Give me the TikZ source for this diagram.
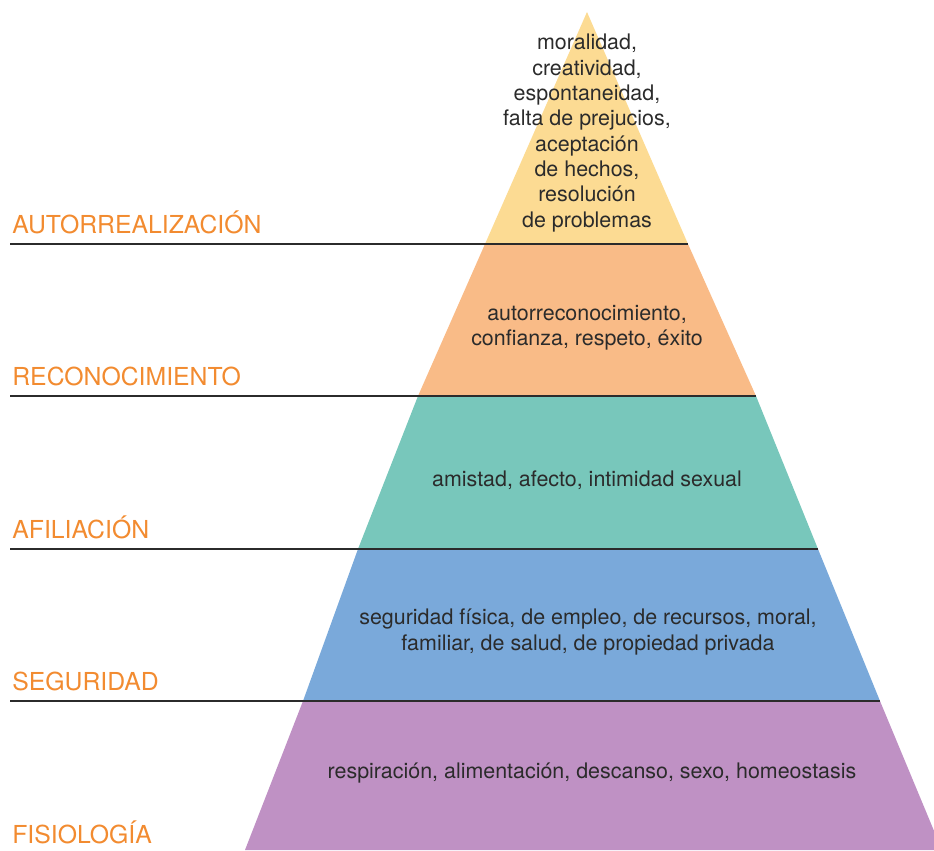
\documentclass[tikz,border=0pt]{standalone}
\usepackage{fontspec}
\setmainfont{TeX Gyre Heros}
\usetikzlibrary{calc}
\definecolor{tierfive}{HTML}{FCDB93}
\definecolor{tierfour}{HTML}{F9BB87}
\definecolor{tierthree}{HTML}{78C7BB}
\definecolor{tiertwo}{HTML}{7AA9DA}
\definecolor{tierone}{HTML}{BF91C4}
\definecolor{levelorange}{HTML}{F28B30}
\definecolor{textgray}{HTML}{2B2B2B}
\tikzset{
  tiertext/.style={align=center, text=textgray, inner sep=0pt,
    font=\fontsize{12.2}{14.4}\selectfont},
  levellabel/.style={anchor=base west, text=levelorange, inner sep=0pt,
    font=\fontsize{14.1}{15}\selectfont},
  levelline/.style={draw=textgray, line width=1.3pt}
}

\begin{document}
\begin{tikzpicture}[x=0.02cm,y=-0.02cm]
\useasboundingbox (0,0) rectangle (934,850);
\clip (0,0) rectangle (934,850);
% edges of the pyramid
\coordinate (apex) at (587,12);
\coordinate (l1) at (485,244); \coordinate (r1) at (688,244);
\coordinate (l2) at (418,396); \coordinate (r2) at (756,396);
\coordinate (l3) at (358,549); \coordinate (r3) at (818,549);
\coordinate (l4) at (303,701); \coordinate (r4) at (880,701);
\coordinate (l5) at (245,850); \coordinate (r5) at (942,850);
% tiers
\fill[tierfive] (apex) -- (r1) -- (l1) -- cycle;
\fill[tierfour] (l1) -- (r1) -- (r2) -- (l2) -- cycle;
\fill[tierthree] (l2) -- (r2) -- (r3) -- (l3) -- cycle;
\fill[tiertwo] (l3) -- (r3) -- (r4) -- (l4) -- cycle;
\fill[tierone] (l4) -- (r4) -- (r5) -- (l5) -- cycle;
% level lines and labels
\foreach \lvl/\y/\name in {1/244/AUTORREALIZACIÓN,2/396/RECONOCIMIENTO,3/549/AFILIACIÓN,4/701/SEGURIDAD}{
  \coordinate (s\lvl) at (10,\y);
  \draw[levelline] (s\lvl) -- (r\lvl);
  \node[levellabel] (lab\lvl) at (12,\y-11) {\name};
}
\node[levellabel] (lab5) at (12,843) {FISIOLOGÍA};
% texts
\node[tiertext] (needs5) at (587,133) {moralidad,\\creatividad,\\espontaneidad,\\falta de prejucios,\\aceptación\\de hechos,\\resolución\\de problemas};
\node[tiertext] (needs4) at (587,328) {autorreconocimiento,\\confianza, respeto, éxito};
\node[tiertext] (needs3) at (587,480) {amistad, afecto, intimidad sexual};
\node[tiertext] (needs2) at (588,632) {seguridad física, de empleo, de recursos, moral,\\familiar, de salud, de propiedad privada};
\node[tiertext] (needs1) at (592,773) {respiración, alimentación, descanso, sexo, homeostasis};
\end{tikzpicture}
\end{document}
